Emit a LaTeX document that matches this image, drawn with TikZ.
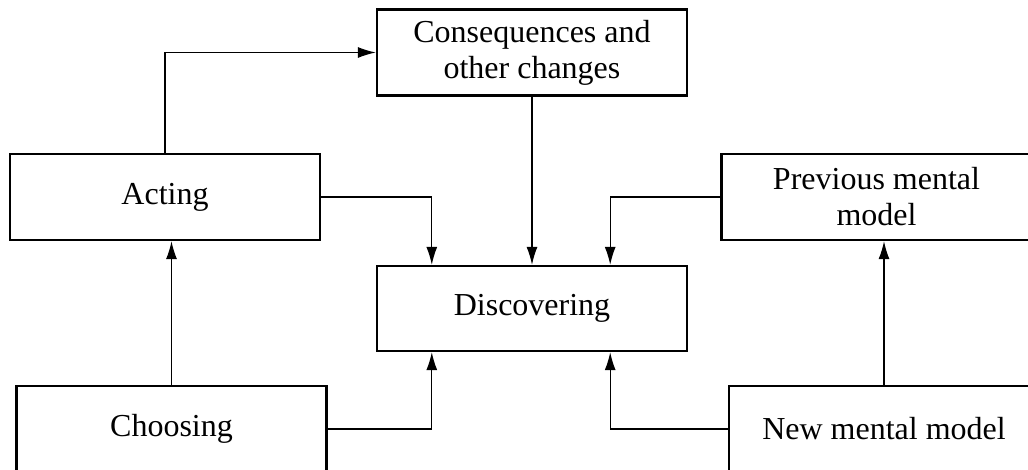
\documentclass[tikz,border=0pt]{standalone}
\usepackage{fontspec}
\setmainfont{Liberation Serif}
\usetikzlibrary{arrows.meta}
\begin{document}
\begin{tikzpicture}[x=1pt, y=-1pt,
    every node/.style={draw, line width=2.4pt, minimum width=310pt, minimum height=86pt,
                  align=center, font=\fontsize{32}{36}\selectfont},
    arr/.style={line width=1.2pt, -{Latex[length=18pt,width=11pt]}}]
              \clip (0,0) rectangle (1028,470);
              \node (cons) at (532,52.5) {Consequences and\\other changes};
              \node (act) at (165,197) {Acting};
              \node (prev) at (876.5,197) {Previous mental\\model};
              \node[minimum height=85pt] (disc) at (532,308.5) {Discovering};
              \node (choose) at (171.5,429) {Choosing};
              \node (newm) at (884,429) {New mental model};
              \draw[arr] (act.north) |- (cons.west);
              \draw[arr] (choose.north) -- (choose.north |- act.south);
              \draw[arr] (cons.south) -- (disc.north);
              \draw[arr] (act.east) -| ([xshift=56pt]disc.north west);
              \draw[arr] (prev.west) -| ([xshift=-78pt]disc.north east);
              \draw[arr] (choose.east) -| ([xshift=56pt]disc.south west);
              \draw[arr] (newm.west) -| ([xshift=-78pt]disc.south east);
              \draw[arr] (newm.north) -- (newm.north |- prev.south);
          \end{tikzpicture}
\end{document}
